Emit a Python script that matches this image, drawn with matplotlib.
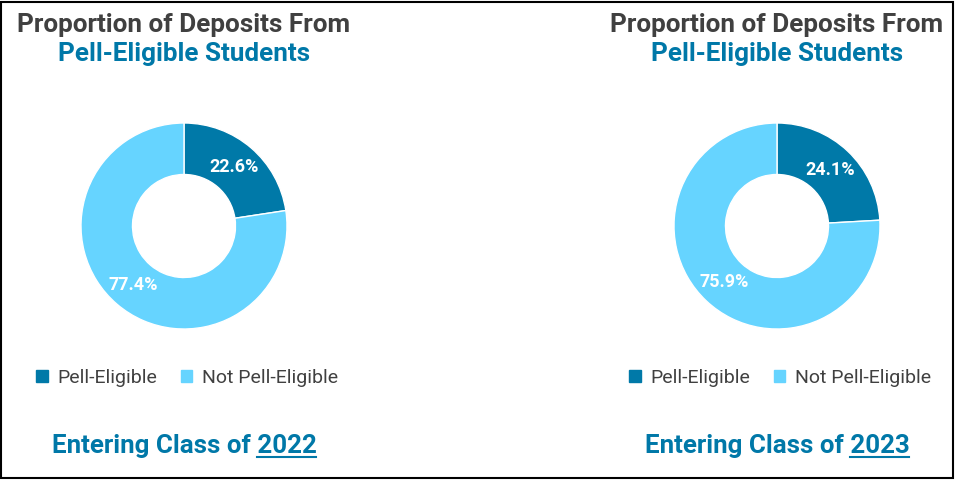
import matplotlib.pyplot as plt
from matplotlib.patches import Patch, Rectangle

# data
years = ["2022", "2023"]
pell_share = [22.6, 24.1]
not_pell_share = [77.4, 75.9]
labels = ["Pell-Eligible", "Not Pell-Eligible"]

DARK = "#0079A8"
LIGHT = "#66D4FF"
GRAY = "#404040"
BLUE_TXT = "#0078A8"
W, H = 956, 480

plt.rcParams["font.family"] = ["Roboto", "DejaVu Sans"]

fig = plt.figure(figsize=(W / 100, H / 100), dpi=100)


def px(x, y):
    # pixel coords (top-left origin) -> figure fraction
    return x / W, 1 - y / H


centers = [184, 777]
R = 103

for cx, year, p, n in zip(centers, years, pell_share, not_pell_share):
    ax = fig.add_axes([(cx - R) / W, 1 - (226 + R) / H, 2 * R / W, 2 * R / H])
    wedges, _, autotexts = ax.pie(
        [p, n], colors=[DARK, LIGHT], startangle=90, counterclock=False,
        autopct="%.1f%%", pctdistance=0.75, radius=1,
        wedgeprops=dict(width=0.5, edgecolor="white", linewidth=1),
        textprops=dict(color="white", fontsize=13, fontweight="bold"))
    ax.set_xlim(-1, 1)
    ax.set_ylim(-1, 1)
    ax.set_aspect("equal")
    ax.axis("off")

    fig.text(*px(cx, 32), "Proportion of Deposits From", ha="center",
             va="baseline", fontsize=18.8, fontweight="bold", color=GRAY)
    fig.text(*px(cx, 61), "Pell-Eligible Students", ha="center",
             va="baseline", fontsize=18.8, fontweight="bold", color=BLUE_TXT)

    handles = [Patch(color=DARK), Patch(color=LIGHT)]
    fig.legend(handles, labels, loc="center", ncol=2, frameon=False,
               bbox_to_anchor=px(cx + 3, 378),
               prop=dict(size=14, weight="normal"), labelcolor=GRAY,
               handlelength=0.6, handleheight=0.6, handletextpad=0.5,
               columnspacing=1.2)

    full = fig.text(*px(cx, 453), "Entering Class of " + year, ha="center",
                    va="baseline", fontsize=18.6, fontweight="bold",
                    color=BLUE_TXT)
    tmp = fig.text(0, 0, year, fontsize=18.6, fontweight="bold")
    r = fig.canvas.get_renderer()
    fb = full.get_window_extent(r)
    yw = tmp.get_window_extent(r).width
    tmp.remove()
    x1 = fb.x1 / W
    x0 = (fb.x1 - yw) / W
    fig.add_artist(plt.Line2D([x0, x1], [1 - 457 / H] * 2, color=BLUE_TXT,
                              linewidth=1.5, transform=fig.transFigure))

fig.add_artist(Rectangle(px(1, 478), 952 / W, 476 / H, fill=False,
                         edgecolor="black", linewidth=1.5,
                         transform=fig.transFigure))

fig.savefig("out.png", dpi=100)
